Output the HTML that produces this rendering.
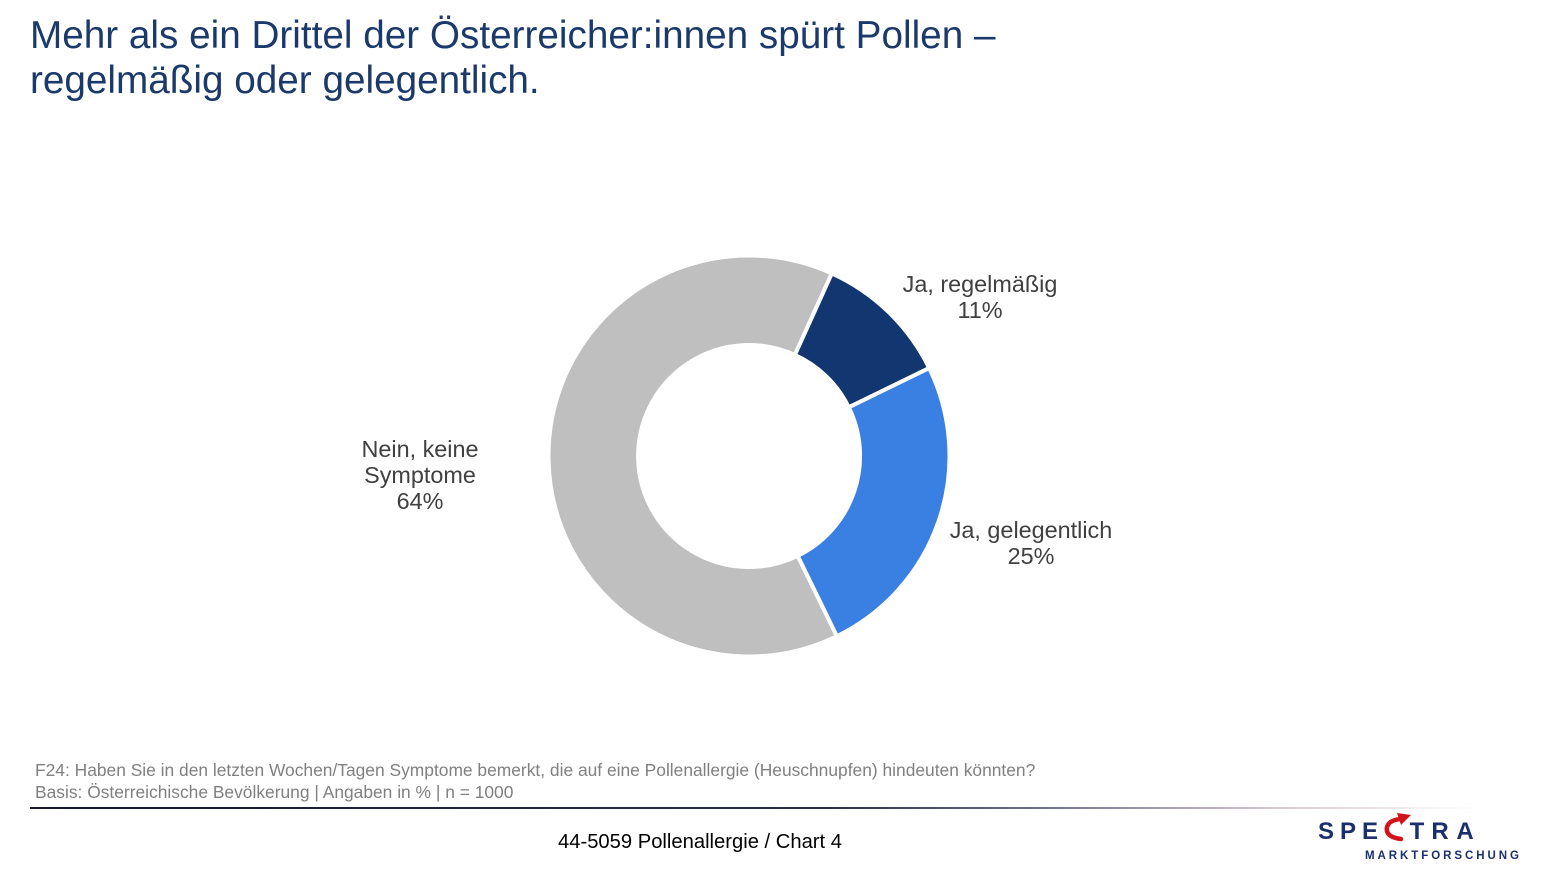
<!DOCTYPE html>
<html>
<head>
<meta charset="utf-8">
<style>
  html, body { margin:0; padding:0; background:#fff; }
  body { width:1547px; height:870px; overflow:hidden; }
  svg { display:block; }
  text { font-family: "Liberation Sans", Arial, sans-serif; }
</style>
</head>
<body>
<svg width="1547" height="870" viewBox="0 0 1547 870" xmlns="http://www.w3.org/2000/svg">
  <defs>
    <linearGradient id="ln" x1="30" y1="0" x2="1480" y2="0" gradientUnits="userSpaceOnUse">
      <stop offset="0" stop-color="#15172a"/>
      <stop offset="0.55" stop-color="#2a2d45"/>
      <stop offset="0.72" stop-color="#7a7c92"/>
      <stop offset="0.86" stop-color="#d8c8d0"/>
      <stop offset="1" stop-color="#ffffff"/>
    </linearGradient>
  </defs>

  <!-- Title -->
  <text x="30" y="48" font-size="38.7" fill="#1b3a6b">Mehr als ein Drittel der Österreicher:innen spürt Pollen –</text>
  <text x="30" y="93" font-size="38.7" fill="#1b3a6b">regelmäßig oder gelegentlich.</text>

  <!-- Donut -->
  <g stroke="#ffffff" stroke-width="4" stroke-linejoin="miter">
    <path d="M836.9 636.2 A200.5 200.5 0 1 1 831.8 273.4 L794.9 354.9 A111 111 0 1 0 797.7 555.8 Z" fill="#bfbfbf"/>
    <path d="M831.8 273.4 A200.5 200.5 0 0 1 929.2 368.1 L848.8 407.3 A111 111 0 0 0 794.9 354.9 Z" fill="#123670"/>
    <path d="M929.2 368.1 A200.5 200.5 0 0 1 836.9 636.2 L797.7 555.8 A111 111 0 0 0 848.8 407.3 Z" fill="#3a7fe2"/>
  </g>

  <!-- Labels -->
  <g font-size="23.4" fill="#404040" text-anchor="middle">
    <text x="980" y="292">Ja, regelmäßig</text>
    <text x="980" y="318">11%</text>
    <text x="1031" y="538">Ja, gelegentlich</text>
    <text x="1031" y="564">25%</text>
    <text x="420" y="457">Nein, keine</text>
    <text x="420" y="483">Symptome</text>
    <text x="420" y="509">64%</text>
  </g>

  <!-- Footnotes -->
  <text x="35" y="776" font-size="17.4" fill="#808080">F24: Haben Sie in den letzten Wochen/Tagen Symptome bemerkt, die auf eine Pollenallergie (Heuschnupfen) hindeuten könnten?</text>
  <text x="35" y="798" font-size="17.4" fill="#808080">Basis: Österreichische Bevölkerung | Angaben in % | n = 1000</text>

  <!-- Separator line -->
  <rect x="30" y="807" width="1450" height="2" fill="url(#ln)"/>

  <!-- Footer -->
  <text x="700" y="848" font-size="20.2" fill="#000" text-anchor="middle">44-5059 Pollenallergie / Chart 4</text>

  <!-- Logo -->
  <g font-size="24" font-weight="bold" fill="#1b2f6e" text-anchor="middle">
    <text x="1326" y="839">S</text>
    <text x="1348" y="839">P</text>
    <text x="1370" y="839">E</text>
    <text x="1417" y="839">T</text>
    <text x="1440" y="839">R</text>
    <text x="1465" y="839">A</text>
  </g>
  <path d="M1401 839 Q1385 837 1387 827 Q1389 820 1401 819" fill="none" stroke="#d4141c" stroke-width="4.5" stroke-linecap="round"/>
  <polygon points="1397,813 1411,815 1401,825" fill="#d4141c"/>
  <text x="1365" y="859" font-size="11.5" font-weight="bold" fill="#1b2f6e" textLength="154" lengthAdjust="spacing">MARKTFORSCHUNG</text>
</svg>
</body>
</html>
